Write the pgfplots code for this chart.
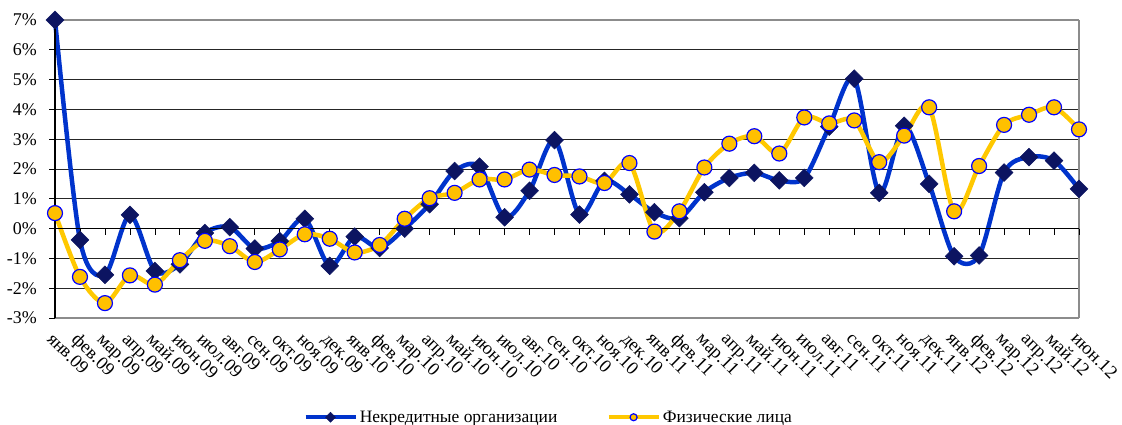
\documentclass[border=0pt]{standalone}
\usepackage{fontspec}
\setmainfont{Liberation Serif}
\usepackage{pgfplots}
\usepackage{pgfplotstable}
\pgfplotsset{compat=1.18}
\definecolor{blueline}{RGB}{0,51,204}
\definecolor{navy}{RGB}{12,20,97}
\definecolor{yel}{RGB}{255,200,0}
\definecolor{yelfill}{RGB}{255,192,0}
\definecolor{mblue}{RGB}{0,0,255}

\pgfplotstableread{
x y
0 7.0
1 -0.38
2 -1.55
3 0.46
4 -1.42
5 -1.2
6 -0.15
7 0.05
8 -0.67
9 -0.42
10 0.33
11 -1.25
12 -0.27
13 -0.65
14 0.0
15 0.82
16 1.93
17 2.08
18 0.38
19 1.27
20 2.97
21 0.47
22 1.6
23 1.15
24 0.55
25 0.35
26 1.22
27 1.7
28 1.87
29 1.62
30 1.7
31 3.42
32 5.03
33 1.2
34 3.45
35 1.5
36 -0.93
37 -0.9
38 1.88
39 2.4
40 2.28
41 1.33
}\nekred

\pgfplotstableread{
x y
0 0.52
1 -1.62
2 -2.5
3 -1.57
4 -1.88
5 -1.06
6 -0.41
7 -0.59
8 -1.12
9 -0.7
10 -0.19
11 -0.34
12 -0.8
13 -0.55
14 0.33
15 1.02
16 1.2
17 1.65
18 1.65
19 1.98
20 1.8
21 1.75
22 1.53
23 2.2
24 -0.1
25 0.58
26 2.05
27 2.85
28 3.1
29 2.52
30 3.73
31 3.53
32 3.63
33 2.23
34 3.12
35 4.07
36 0.58
37 2.1
38 3.48
39 3.82
40 4.07
41 3.33
}\fizlica

\begin{document}
\begin{tikzpicture}
\begin{axis}[name=ax, at={(0,0)}, anchor=south west,
  scale only axis, width=1024bp, height=298bp,
  xmin=0, xmax=41, ymin=-3, ymax=7,
  clip=false,
  separate axis lines,
  x axis line style={draw=black!45, line width=1.5bp},
  y axis line style={draw=black!45, line width=1.5bp},
  ytick={-3,-2,...,7},
  yticklabels={-3\%,-2\%,-1\%,0\%,1\%,2\%,3\%,4\%,5\%,6\%,7\%},
  ytick pos=left,
  tick align=outside,
  major tick length=6bp,
  ytick style={black, line width=1bp},
  yticklabel style={font=\fontsize{18}{20}\selectfont, inner sep=0pt, xshift=-12bp},
  ymajorgrids,
  grid style={black!85, line width=1bp},
  xtick={0,...,41},
  xticklabels={янв.09,фев.09,мар.09,апр.09,май.09,июн.09,июл.09,авг.09,сен.09,окт.09,ноя.09,дек.09,
    янв.10,фев.10,мар.10,апр.10,май.10,июн.10,июл.10,авг.10,сен.10,окт.10,ноя.10,дек.10,
    янв.11,фев.11,мар.11,апр.11,май.11,июн.11,июл.11,авг.11,сен.11,окт.11,ноя.11,дек.11,
    янв.12,фев.12,мар.12,апр.12,май.12,июн.12},
  xtick pos=bottom,
  xtick style={draw=none},
  xticklabel style={rotate=-45, anchor=north west, inner sep=0pt, xshift=5bp, yshift=-5bp,
    font=\fontsize{18.5}{20}\selectfont},
  legend columns=2,
  legend style={draw=none, fill=none, at={(0.482,-0.333)}, anchor=center,
    font=\fontsize{17.5}{19}\selectfont,
    /tikz/every even column/.append style={column sep=47bp}},
  legend image code/.code={\draw[#1, mark size=3.5bp, mark repeat=2, mark phase=2]
    plot coordinates {(0bp,0bp) (25bp,0bp) (50bp,0bp)};},
]
\addplot[blueline, line width=4.5bp, smooth, tension=0.5,
  mark=square*, mark size=6.3bp,
  mark options={rotate=45, fill=navy, draw=navy, line width=0.5bp, solid}]
  table[x=x, y=y] {\nekred};
\addlegendentry{Некредитные организации}
\addplot[yel, line width=4.5bp, smooth, tension=0.5,
  mark=*, mark size=7.5bp,
  mark options={fill=yelfill, draw=mblue, line width=1.2bp, solid}]
  table[x=x, y=y] {\fizlica};
\addlegendentry{Физические лица}
\draw[black, line width=1.3bp] (rel axis cs:0,0) -- (rel axis cs:0,1);
\draw[black, line width=1.5bp] (axis cs:0,0) -- (axis cs:41,0);
\pgfplotsinvokeforeach{0,...,41}{\draw[black, line width=0.8bp] (axis cs:#1,0) -- ++(0pt,-6bp);}
\end{axis}
\pgfresetboundingbox
\path ([shift={(-55bp,-106bp)}]ax.south west) rectangle ([shift={(43bp,20bp)}]ax.north east);
\end{tikzpicture}
\end{document}
